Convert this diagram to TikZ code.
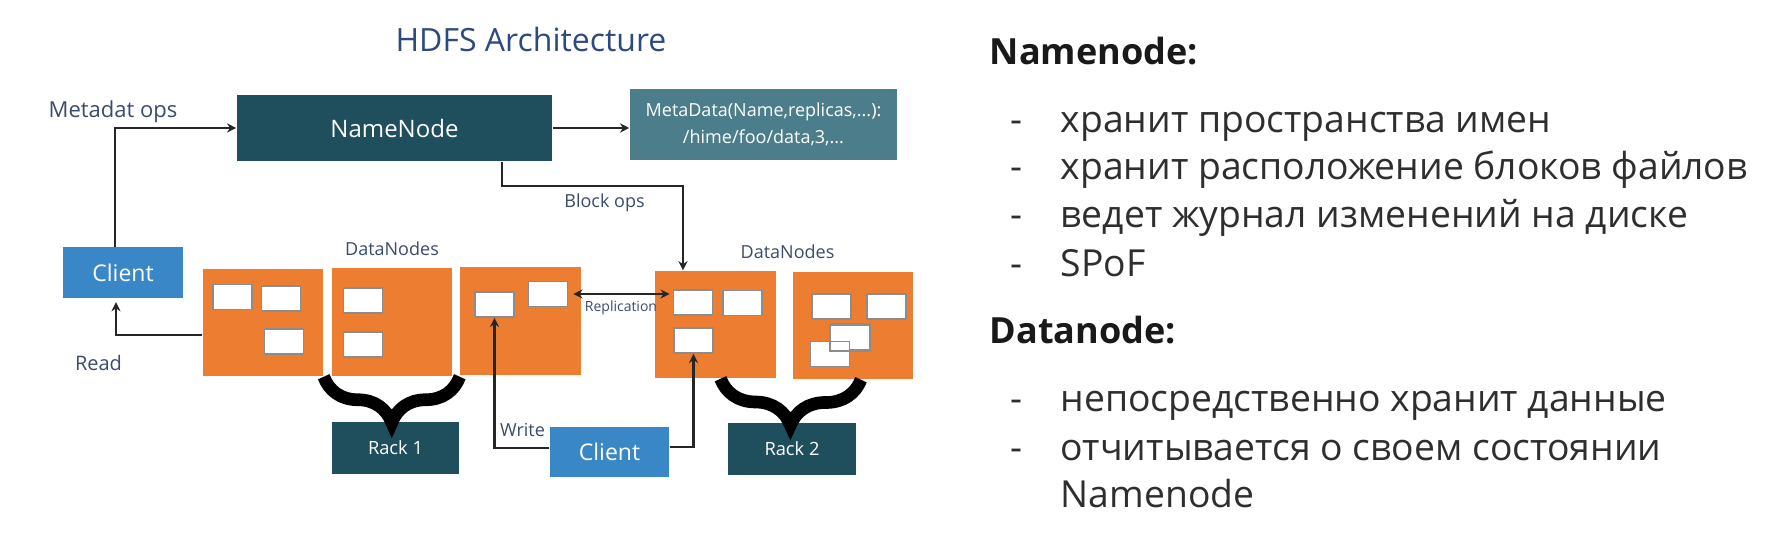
\documentclass[tikz,border=0pt]{standalone}
\usepackage{fontspec}
\setmainfont{Open Sans}
\usetikzlibrary{arrows.meta, positioning, decorations.pathreplacing}

\definecolor{nnteal}{HTML}{1F4E5C}
\definecolor{mdteal}{HTML}{4B7E8A}
\definecolor{clblue}{HTML}{3A87C7}
\definecolor{dnorange}{HTML}{ED7D31}
\definecolor{lblc}{HTML}{3B4B6B}
\definecolor{titlec}{HTML}{2C4A7E}

\begin{document}
\begin{tikzpicture}[x=0.01cm, y=-0.01cm, >={Stealth[length=2.6pt, width=2.6pt]},
  every node/.style={inner sep=0pt, font=\fontsize{5.12pt}{6pt}\selectfont},
  darkbox/.style={fill=nnteal, text=white},
  rackbox/.style={darkbox, minimum width=1.27cm, minimum height=0.51cm, font=\fontsize{5.2pt}{6pt}\selectfont},
  clientbox/.style={fill=clblue, text=white, minimum width=1.2cm, minimum height=0.5cm, font=\fontsize{6.54pt}{8pt}\selectfont},
  dnbox/.style={fill=dnorange, minimum width=1.2cm, minimum height=1.07cm},
  blk/.style={fill=white, draw=black!45, line width=0.5pt, minimum width=0.39cm, minimum height=0.25cm},
  lbl/.style={text=lblc, anchor=base},
  link/.style={->, line width=0.6pt, black!85},
  rackbrace/.style={decorate, decoration={brace, mirror, amplitude=0.46cm}, line width=3.6pt},
  head/.style={anchor=base west, font=\bfseries\fontsize{10.25pt}{12pt}\selectfont, text=black!90},
  item/.style={anchor=base west, font=\fontsize{10.6pt}{12pt}\selectfont, text=black!82}]

\useasboundingbox (0,0) rectangle (1791,540);

% Title
\node[text=titlec, anchor=base, font=\fontsize{9.1pt}{11pt}\selectfont] (title) at (531,52) {HDFS Architecture};

% NameNode and its metadata
\node[darkbox, minimum width=3.15cm, minimum height=0.66cm, font=\fontsize{6.83pt}{8pt}\selectfont] (namenode) at (394.5,128) {NameNode};
\node[fill=mdteal, text=white, minimum width=2.67cm, minimum height=0.71cm, align=center, font=\fontsize{5.12pt}{7.7pt}\selectfont] (meta) at (763.5,124.5) {MetaData(Name,replicas,...):\\/hime/foo/data,3,...};

% Clients
\node[clientbox] (clientL) at (123,272.5) {Client};
\node[clientbox, minimum width=1.19cm] (clientB) at (609.5,452) {Client};

% DataNodes
\node[dnbox] (dn1) at (263,322.5) {};
\node[dnbox] (dn2) at (392,322) {};
\node[dnbox] (dn3) at (520.5,321) {};
\node[dnbox] (dn4) at (715.5,324.5) {};
\node[dnbox] (dn5) at (853,325.5) {};

% Blocks in the DataNodes
\node[blk] (b1a) at (232.5,297) {};
\node[blk] (b1b) at (281,298.5) {};
\node[blk] (b1c) at (284,341.5) {};
\node[blk] (b2a) at (363,300.5) {};
\node[blk] (b2b) at (363,344.5) {};
\node[blk] (b3a) at (494.5,304.5) {};
\node[blk] (b3b) at (548,294) {};
\node[blk] (b4a) at (693,302.5) {};
\node[blk] (b4b) at (742.5,303) {};
\node[blk] (b4c) at (693.5,340.5) {};
\node[blk] (b5a) at (831.5,306.5) {};
\node[blk] (b5b) at (886.5,306.5) {};
\node[blk] (b5c) at (850,337.5) {};
\node[blk] (b5d) at (830,354) {};
\draw[black!45, line width=0.5pt] (b5c.south west) rectangle (b5c.north east);

% Racks
\node[rackbox] (rack1) at (395.5,448) {Rack 1};
\node[rackbox, minimum width=1.28cm] (rack2) at (792,449) {Rack 2};
\draw[rackbrace] (dn1.south east) -- (dn1.south east -| dn3.south west);
\draw[rackbrace] ([xshift=0.05cm]dn4.south) -- ([xshift=0.08cm]dn5.south);

% Labels
\node[lbl, font=\fontsize{6.26pt}{8pt}\selectfont] (opsmeta) at (113,118) {Metadat ops};
\node[lbl, above=0.11cm of dn2] (dnlabL) {DataNodes};
\node[lbl] (dnlabR) at (787.5,259) {DataNodes};
\node[lbl] (opsblock) at (604.5,208) {Block ops};
\node[lbl, font=\fontsize{5.69pt}{7pt}\selectfont] (opsread) at (98.5,371) {Read};
\node[lbl] (opswrite) at (522.5,437) {Write};
\node[lbl, font=\fontsize{3.98pt}{5pt}\selectfont] (repl) at (621,312) {Replication};

% Arrows
\draw[link] ([xshift=-0.08cm]clientL.north) |- (namenode.west);
\draw[link] (namenode.east) -- (namenode.east -| meta.west);
\draw[link] ([xshift=1.075cm]namenode.south) -- ++(0,24) -| ([xshift=-0.325cm]dn4.north);
\draw[link, shorten >=0.04cm] ([yshift=-0.125cm]dn1.west) -| ([xshift=-0.07cm]clientL.south);
\draw[link, <->, shorten <=0.05cm, shorten >=0.03cm] (b3b.east) -- (b3b.east -| b4a.west);
\draw[link] ([yshift=0.04cm]clientB.west) -| (b3a.south);
\draw[link] ([yshift=0.05cm]clientB.east) -| (b4c.south);

% Namenode notes
\node[head] (nnhead) at (989,65) {Namenode:};
\node[item] (nndash1) at (1010,133) {-};
\node[item] (nnitem1) at (1060,133) {хранит пространства имен};
\node[item] (nndash2) at (1010,180) {-};
\node[item] (nnitem2) at (1060,180) {хранит расположение блоков файлов};
\node[item] (nndash3) at (1010,228) {-};
\node[item] (nnitem3) at (1060,228) {ведет журнал изменений на диске};
\node[item] (nndash4) at (1010,277) {-};
\node[item] (nnitem4) at (1060,277) {SPoF};

% Datanode notes
\node[head] (dnhead) at (989,344) {Datanode:};
\node[item] (dndash1) at (1010,412) {-};
\node[item] (dnitem1) at (1060,412) {непосредственно хранит данные};
\node[item] (dndash2) at (1010,461) {-};
\node[item] (dnitem2) at (1060,461) {отчитывается о своем состоянии};
\node[item] (dnitem3) at (1060,508) {Namenode};

\end{tikzpicture}
\end{document}
